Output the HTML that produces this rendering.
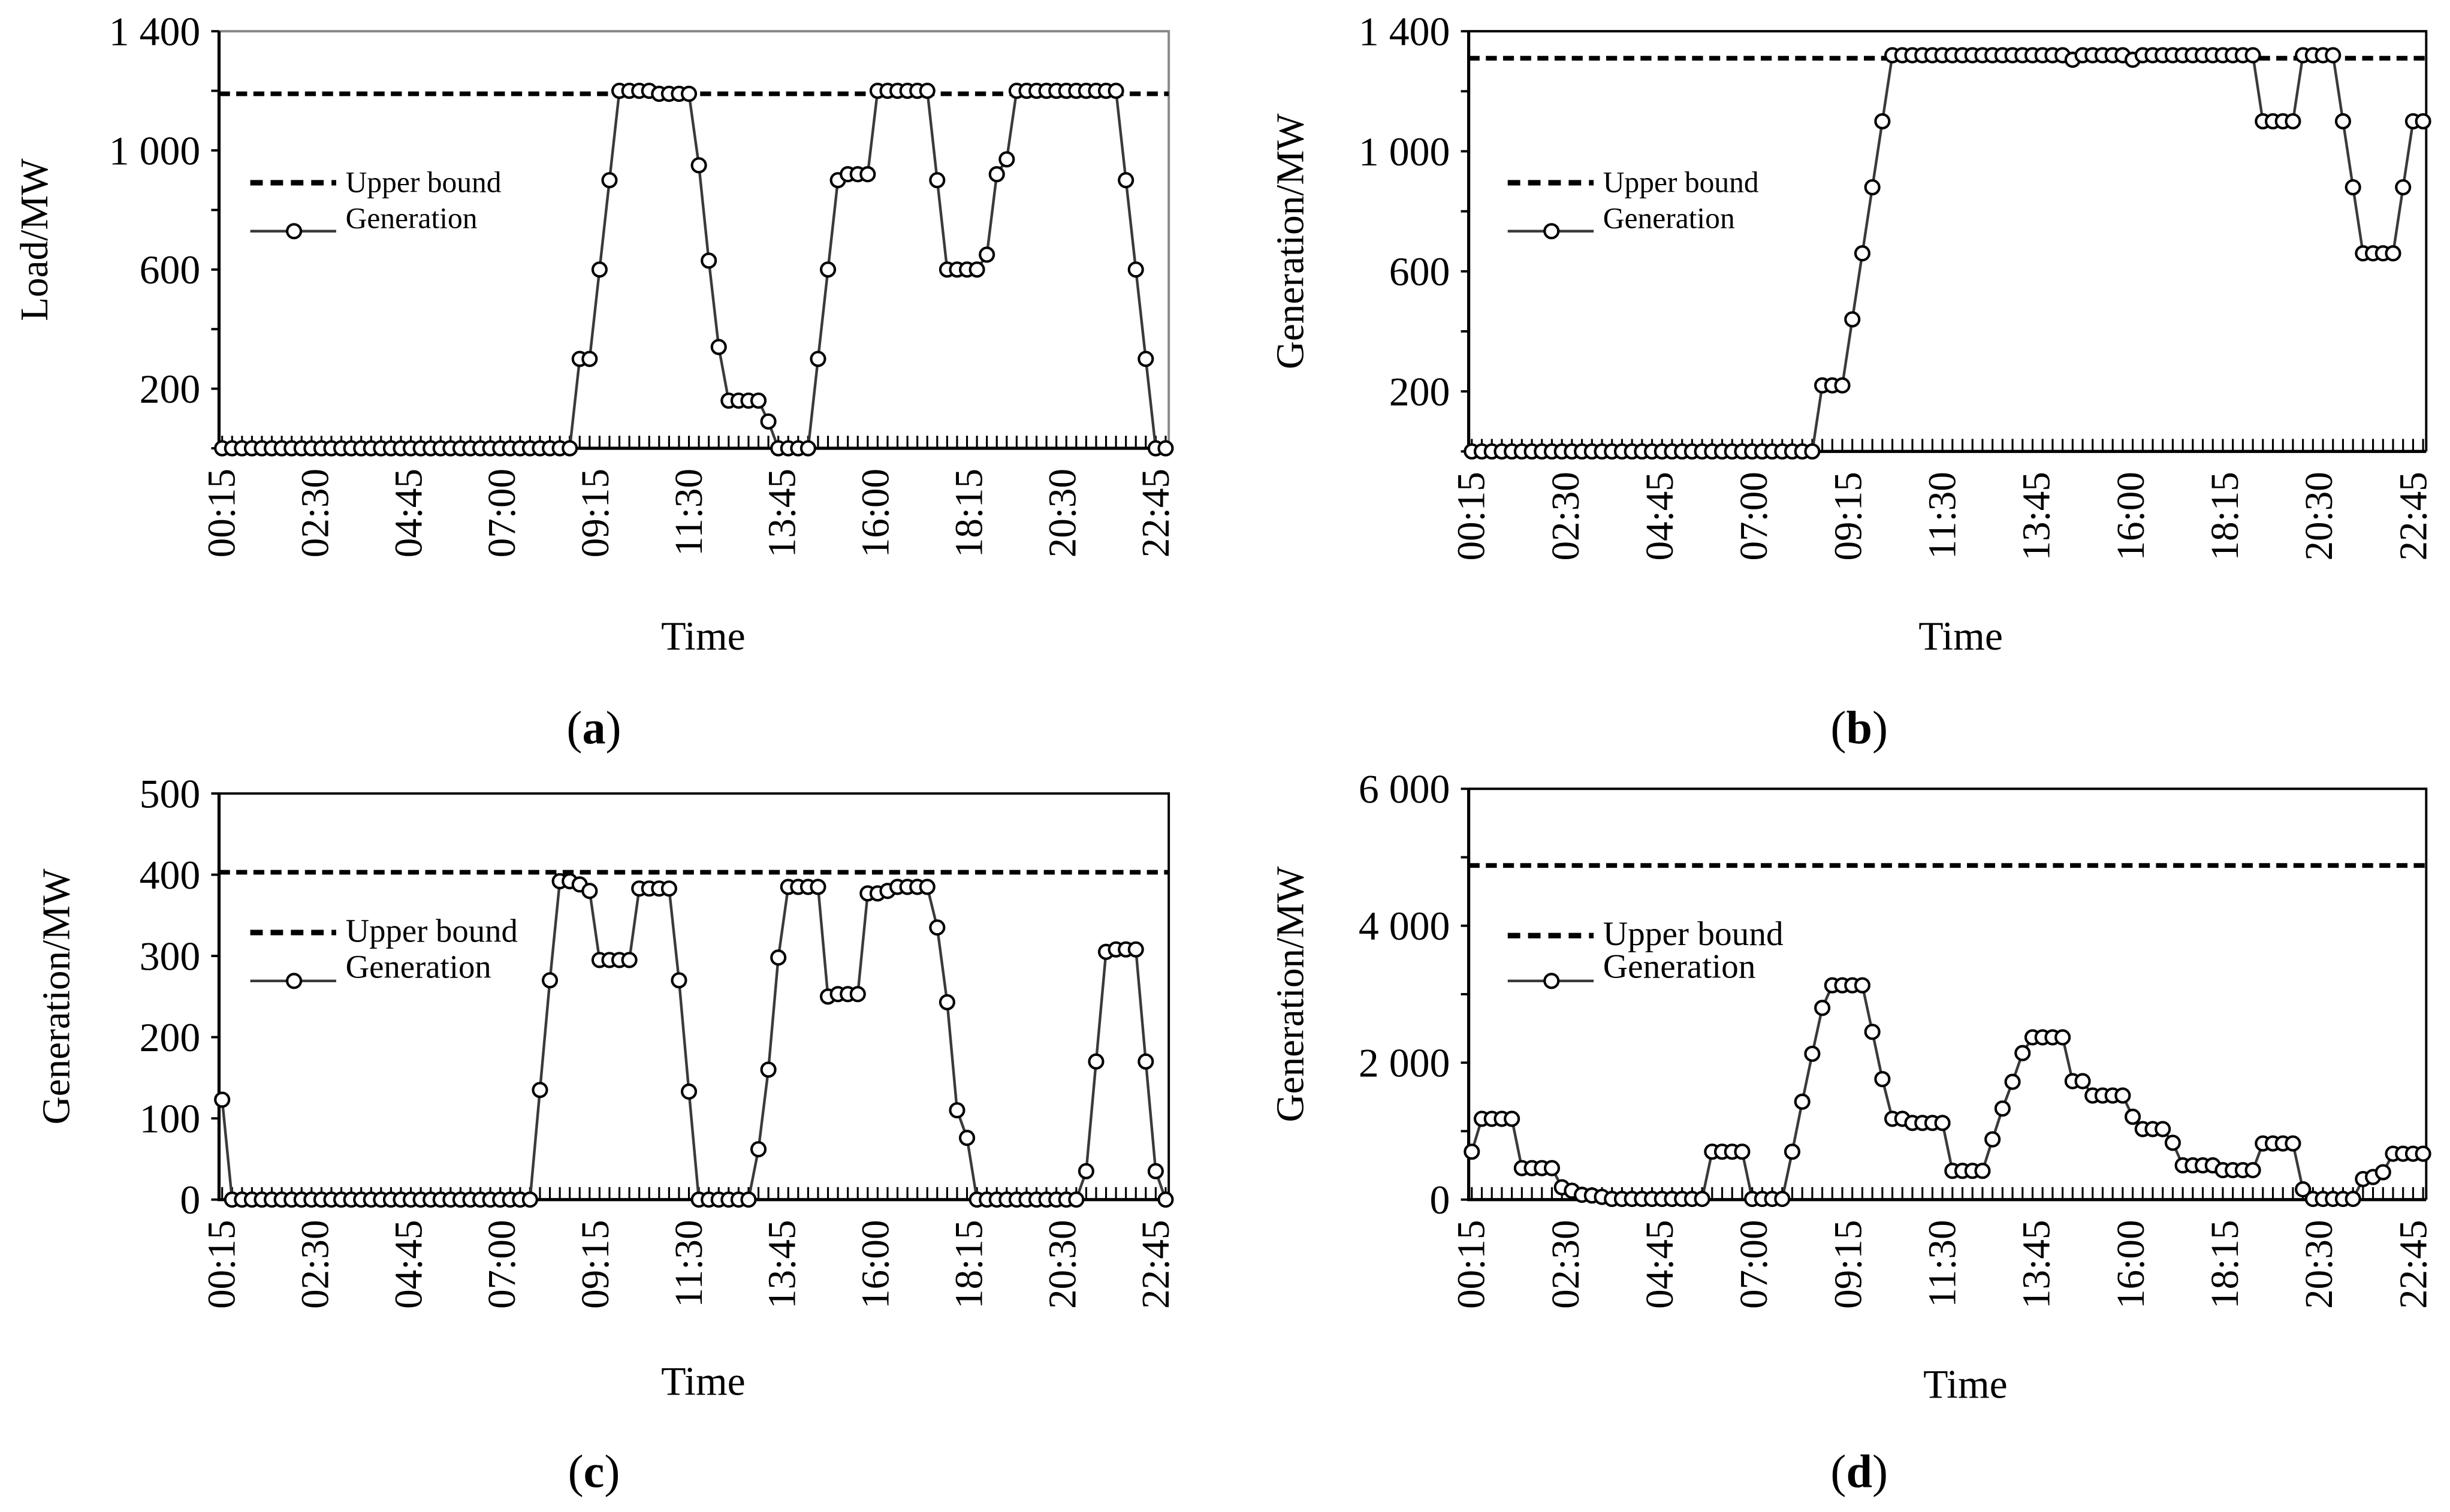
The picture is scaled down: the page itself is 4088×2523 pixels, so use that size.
<!DOCTYPE html>
<html><head><meta charset="utf-8"><style>
html,body{margin:0;padding:0;background:#fff;}
svg{display:block;font-family:"Liberation Serif","Times New Roman",serif;}
</style></head><body>
<svg id="fig" width="4088" height="2523" viewBox="0 0 1568 968" xmlns="http://www.w3.org/2000/svg"></svg>
<script>
const timeLabels = ["00:15","02:30","04:45","07:00","09:15","11:30","13:45","16:00","18:15","20:30","22:45"];
const seriesA = [0,0,0,0,0,0,0,0,0,0,0,0,0,0,0,0,0,0,0,0,0,0,0,0,0,0,0,0,0,0,0,0,0,0,0,0,300,300,600,900,1200,1200,1200,1200,1190,1190,1190,1190,950,630,340,160,160,160,160,90,0,0,0,0,300,600,900,920,920,920,1200,1200,1200,1200,1200,1200,900,600,600,600,600,650,920,970,1200,1200,1200,1200,1200,1200,1200,1200,1200,1200,1200,900,600,300,0,0];
const seriesB = [0,0,0,0,0,0,0,0,0,0,0,0,0,0,0,0,0,0,0,0,0,0,0,0,0,0,0,0,0,0,0,0,0,0,0,220,220,220,440,660,880,1100,1320,1320,1320,1320,1320,1320,1320,1320,1320,1320,1320,1320,1320,1320,1320,1320,1320,1320,1305,1320,1320,1320,1320,1320,1305,1320,1320,1320,1320,1320,1320,1320,1320,1320,1320,1320,1320,1100,1100,1100,1100,1320,1320,1320,1320,1100,880,660,660,660,660,880,1100,1100];
const seriesC = [123,0,0,0,0,0,0,0,0,0,0,0,0,0,0,0,0,0,0,0,0,0,0,0,0,0,0,0,0,0,0,0,135,270,392,392,388,380,295,295,295,295,383,383,383,383,270,133,0,0,0,0,0,0,62,160,298,385,385,385,385,250,253,253,253,377,377,380,385,385,385,385,335,243,110,76,0,0,0,0,0,0,0,0,0,0,0,35,170,305,308,308,308,170,35,0];
const seriesD = [700,1180,1180,1180,1180,460,460,460,460,180,130,70,60,40,10,10,10,10,10,10,10,10,10,10,700,700,700,700,10,10,10,10,700,1430,2130,2800,3130,3130,3130,3130,2450,1760,1180,1180,1120,1120,1120,1120,420,420,420,420,880,1330,1720,2140,2370,2370,2370,2370,1730,1730,1520,1520,1520,1520,1210,1030,1030,1030,830,500,500,500,500,430,430,430,430,820,820,820,820,150,10,10,10,10,10,300,330,400,670,670,670,670];
const boundA = [1190], boundB = [1310], boundC = [403], boundD = [4880];
const ticksA = [200,600,1000,1400], ticksB = [200,600,1000,1400], ticksC = [0,100,200,300,400,500], ticksD = [0,2000,4000,6000];
const tickTextA = ["200","600","1 000","1 400"], tickTextC = ["0","100","200","300","400","500"], tickTextD = ["0","2 000","4 000","6 000"];

const NS="http://www.w3.org/2000/svg";
const svg=document.getElementById('fig');
function mk(tag,attrs,parent,text){const e=document.createElementNS(NS,tag);for(const k in attrs)e.setAttribute(k,attrs[k]);if(text!==undefined)e.textContent=text;(parent||svg).appendChild(e);return e;}

function panel(o){
  const g=mk('g',{});
  
  
  const N=o.data.length;
  const x=i=>o.x0+(o.x1-o.x0-4)*i/(N-1)+2;
  const y=v=>o.y1-(v-o.vmin)/(o.vmax-o.vmin)*(o.y1-o.y0);
  const fr=mk('path',{d:`M${o.x0},${o.y0} H${o.x1} V${o.y1}`,fill:'none',stroke:o.frameColor,'stroke-width':1.5},g);
  
  
  const ax=mk('path',{d:`M${o.x0},${o.y0} V${o.y1} H${o.x1}`,fill:'none',stroke:'#000','stroke-width':2},g);
  
  
  const minor=(o.vmax-o.vmin)/o.minorCount;
  for(let v=o.vmin;v<=o.vmax+1e-6;v+=minor){mk('line',{x1:o.x0-5,x2:o.x0,y1:y(v),y2:y(v),stroke:'#000','stroke-width':1.5},g);}
  o.ticks.forEach((t,i)=>{
    const tl=mk('text',{x:o.x0-12,y:y(t)+9,'text-anchor':'end','font-size':26},g,o.tickText[i]);
    
    
  });
  let tp='';
  for(let i=0;i<N;i++){tp+=`M${x(i)},${o.y1} V${o.y1-8} `;}
  mk('path',{d:tp,stroke:'#000','stroke-width':1.2,fill:'none'},g);
  timeLabels.forEach((s,i)=>{
    const lx=o.x0+2+(o.x1-o.x0-10)*i/(timeLabels.length-1);
    const t=mk('text',{x:0,y:0,'text-anchor':'end','font-size':25,transform:`translate(${lx+8},${o.y1+13}) rotate(-90)`},g,s);
    
    
  });
  const yt=mk('text',{x:0,y:0,'text-anchor':'middle','font-size':25,transform:`translate(${o.ytx},${(o.y0+o.y1)/2}) rotate(-90)`},g,o.ytitle);
  
  
  const xt=mk('text',{x:o.xtx,y:o.xty,'text-anchor':'middle','font-size':26},g,'Time');
  
  
  const cap=mk('text',{x:o.capx,y:o.capy,'text-anchor':'middle','font-size':30},g);
  
  
  mk('tspan',{},cap,'(');mk('tspan',{'font-weight':'bold'},cap,o.id);mk('tspan',{},cap,')');
  const ub=mk('line',{x1:o.x0,x2:o.x1,y1:y(o.bound[0]),y2:y(o.bound[0]),stroke:'#000','stroke-width':3,'stroke-dasharray':'7 4'},g);
  
  
  let d='';
  o.data.forEach((v,i)=>{d+=(i?'L':'M')+x(i).toFixed(2)+','+y(v).toFixed(2)+' ';});
  const ln=mk('path',{d:d,fill:'none',stroke:'#3a3a3a','stroke-width':1.7},g);
  
  
  o.data.forEach((v,i)=>{
    const c=mk('circle',{cx:x(i),cy:y(v),r:4.4,fill:'#fff',stroke:'#000','stroke-width':1.6},g);
    
    
  });
  const lg=mk('g',{},g);
  
  
  mk('line',{x1:o.lx,x2:o.lx+55,y1:o.ly1,y2:o.ly1,stroke:'#000','stroke-width':3.5,'stroke-dasharray':'8 5'},lg);
  const l1=mk('text',{x:o.lx+61,y:o.ly1+6,'font-size':o.lfs},lg,'Upper bound');
  
  
  mk('line',{x1:o.lx,x2:o.lx+55,y1:o.ly2,y2:o.ly2,stroke:'#3a3a3a','stroke-width':1.7},lg);
  mk('circle',{cx:o.lx+28,cy:o.ly2,r:4.4,fill:'#fff',stroke:'#000','stroke-width':1.6},lg);
  const l2=mk('text',{x:o.lx+61,y:o.ly2-2,'font-size':o.lfs},lg,'Generation');
  
  
}

panel({id:'a',data:seriesA,bound:boundA,ticks:ticksA,tickText:tickTextA,vmin:0,vmax:1400,minorCount:7,
  x0:140,x1:748,y0:20,y1:287,frameColor:'#888',ytitle:'Load/MW',ytx:30,xtx:450,xty:416,capx:380,capy:476,
  lx:160,ly1:117,ly2:148,lfs:19});
panel({id:'b',data:seriesB,bound:boundB,ticks:ticksB,tickText:tickTextA,vmin:0,vmax:1400,minorCount:7,
  x0:940,x1:1553,y0:20,y1:289,frameColor:'#000',ytitle:'Generation/MW',ytx:834,xtx:1255,xty:416,capx:1190,capy:476,
  lx:965,ly1:117,ly2:148,lfs:19});
panel({id:'c',data:seriesC,bound:boundC,ticks:ticksC,tickText:tickTextC,vmin:0,vmax:500,minorCount:5,
  x0:140,x1:748,y0:508,y1:768,frameColor:'#000',ytitle:'Generation/MW',ytx:44,xtx:450,xty:893,capx:380,capy:952,
  lx:160,ly1:597,ly2:628,lfs:21});
panel({id:'d',data:seriesD,bound:boundD,ticks:ticksD,tickText:tickTextD,vmin:0,vmax:6000,minorCount:6,
  x0:940,x1:1553,y0:505,y1:768,frameColor:'#000',ytitle:'Generation/MW',ytx:834,xtx:1258,xty:895,capx:1190,capy:952,
  lx:965,ly1:599,ly2:628,lfs:22});
</script>
</body></html>
